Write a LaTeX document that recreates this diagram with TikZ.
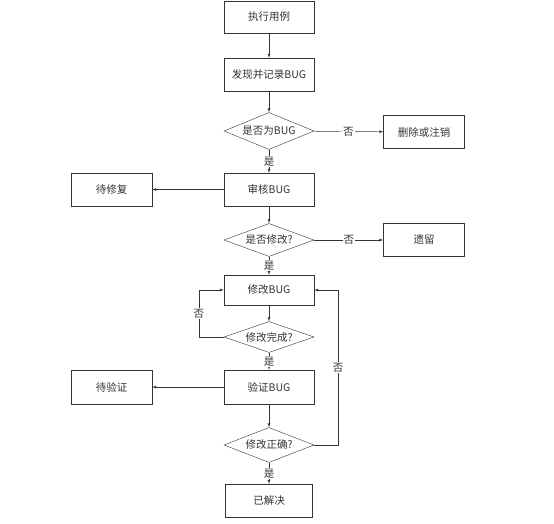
\documentclass[tikz,border=0pt]{standalone}
\usepackage{fontspec}
\setmainfont{Noto Sans CJK SC}
\usetikzlibrary{shapes.geometric}
\tikzset{
  box/.style={draw=black!80,thin,minimum width=90pt,minimum height=33pt,inner sep=1pt,font=\fontsize{10.5}{12}\selectfont,text=black!80},
  sidebox/.style={box,minimum width=81pt},
  ask/.style={draw=black!80,thin,diamond,aspect=2.6,inner sep=0pt,minimum width=90pt,minimum height=35pt,font=\fontsize{10.5}{12}\selectfont,text=black!80},
  arr/.style={draw=black!80,thin,-latex},
  tag/.style={fill=white,inner sep=1pt,font=\fontsize{10.5}{12}\selectfont,text=black!80}
}
\begin{document}
\begin{tikzpicture}[x=1pt,y=-1pt]
\useasboundingbox (0,0) rectangle (554,524);
% main column
\node[box,minimum height=32pt] (run) at (269,17) {执行用例};
\node[box] (record) at (269,74.5) {发现并记录BUG};
\node[ask,minimum height=37pt] (isbug) at (269,131) {是否为BUG};
\node[sidebox] (cancel) at (424,132) {删除或注销};
\node[box] (review) at (269,189.5) {审核BUG};
\node[sidebox] (pending) at (111.5,189.5) {待修复};
\node[ask,minimum height=33pt] (modq) at (269,240) {是否修改?};
\node[sidebox] (leave) at (424,240) {遗留};
\node[box,minimum height=30pt] (fix) at (269,290) {修改BUG};
\node[ask,minimum height=31pt] (done) at (269,337) {修改完成?};
\node[box,minimum height=34pt] (verify) at (269,387) {验证BUG};
\node[sidebox,minimum height=34pt] (toverify) at (111.5,387) {待验证};
\node[ask] (correct) at (269,445) {修改正确?};
\node[box,minimum width=87pt] (solved) at (269,500.5) {已解决};
% connectors
\draw[arr] (run) -- (record);
\draw[arr] (record) -- (isbug);
\draw[arr] (isbug) -- node[tag] {否} (cancel);
\draw[arr] (isbug) -- node[tag] {是} (review);
\draw[arr] (review) -- (pending);
\draw[arr] (review) -- (modq);
\draw[arr] (modq) -- node[tag] {否} (leave);
\draw[arr] (modq) -- node[tag] {是} (fix);
\draw[arr] (fix) -- (done);
\draw[arr] (done.west) -- ++(-25,0) |- node[tag,pos=0.25] {否} (fix.west);
\draw[arr] (done) -- node[tag] {是} (verify);
\draw[arr] (verify) -- (toverify);
\draw[arr] (verify) -- (correct);
\draw[arr] (correct.east) -- ++(24,0) |- node[tag,pos=0.25] {否} (fix.east);
\draw[arr] (correct) -- node[tag] {是} (solved);
\end{tikzpicture}
\end{document}
